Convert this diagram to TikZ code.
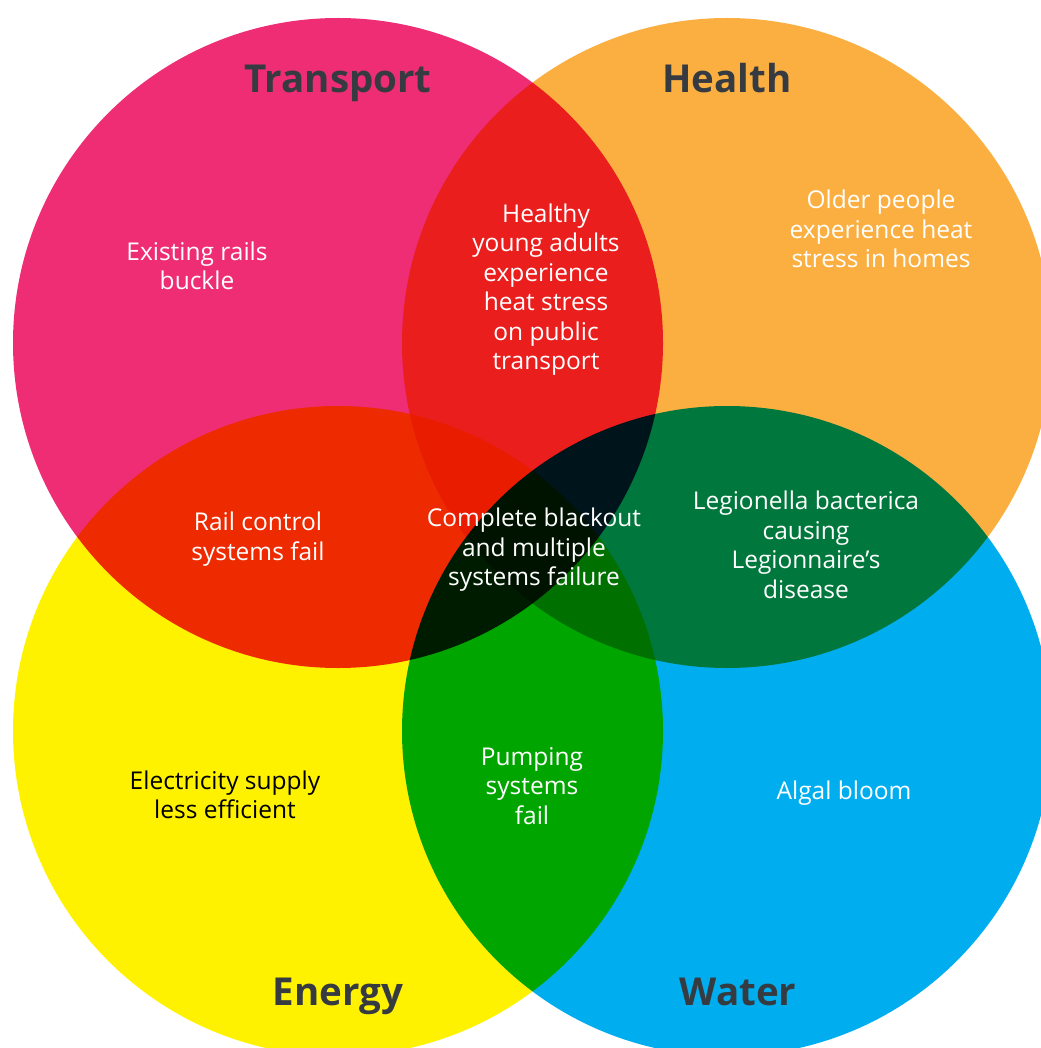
\documentclass[tikz,border=0pt]{standalone}
\usepackage{fontspec}
\setmainfont{Open Sans}
\definecolor{cpink}{HTML}{EE2D74}
\definecolor{corange}{HTML}{FBAF41}
\definecolor{cyellow}{HTML}{FFF200}
\definecolor{cblue}{HTML}{00AEEF}
\definecolor{ctitle}{HTML}{363B41}
\tikzset{
  lbl/.style={align=center, text=white, font=\fontsize{24.5}{29.5}\selectfont, inner sep=0pt},
  ttl/.style={text=ctitle, font=\fontsize{38.5}{44}\selectfont\bfseries, inner sep=0pt, anchor=base},
}
\begin{document}
\begin{tikzpicture}[x=1pt,y=-1pt]
\useasboundingbox (0,0) rectangle (1040,1048);
\clip (0,0) rectangle (1040,1048);
\fill[white] (0,0) rectangle (1040,1048);
\begin{scope}[blend group=multiply]
  \fill[cpink]   (338,343) circle[radius=325];
  \fill[corange] (727,343) circle[radius=325];
  \fill[cyellow] (338,731) circle[radius=325];
  \fill[cblue]   (727,731) circle[radius=325];
\end{scope}
\node[ttl] (tT) at (338,93) {Transport};
\node[ttl] (tH) at (727,93) {Health};
\node[ttl] (tE) at (338,1005) {Energy};
\node[ttl] (tW) at (738,1005) {Water};
\node[lbl] (a) at (197,266) {Existing rails\\buckle};
\node[lbl] (b) at (546,289.5) {Healthy\\young adults\\experience\\heat stress\\on public\\transport};
\node[lbl] (c) at (881,229) {Older people\\experience heat\\stress in homes};
\node[lbl] (d) at (258,539) {Rail control\\systems fail};
\node[lbl] (e) at (534,550) {Complete blackout\\and multiple\\systems failure};
\node[lbl] (f) at (806,545) {Legionella bacterica\\causing\\Legionnaire’s\\disease};
\node[lbl, text=black] (g) at (225,795) {Electricity supply\\less efficient};
\node[lbl] (h) at (532,786) {Pumping\\systems\\fail};
\node[lbl] (i) at (844,793.5) {Algal bloom};
\end{tikzpicture}
\end{document}
